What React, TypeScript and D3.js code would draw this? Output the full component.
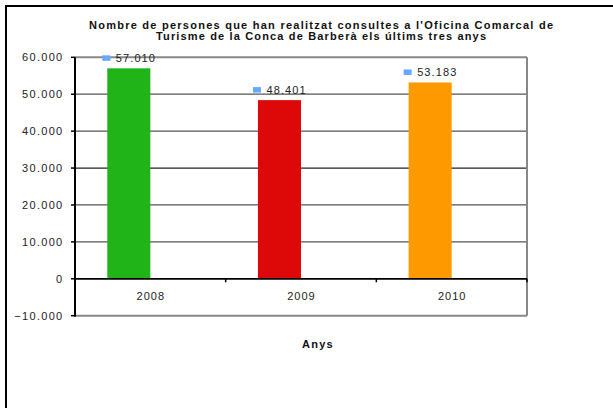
import React from "react";
import * as d3 from "d3";

const years = ["2008", "2009", "2010"];
const visits = [57010, 48401, 53183];
const barColors = ["#20b418", "#dd0808", "#ff9900"];
const yTicks = [-10000, 0, 10000, 20000, 30000, 40000, 50000, 60000];
const titleLines = [
  "Nombre de persones que han realitzat consultes a l'Oficina Comarcal de",
  "Turisme de la Conca de Barberà els últims tres anys",
];
const xTitle = "Anys";

const W = 613;
const H = 408;
const plot = { left: 75, right: 527, top: 57.3, bottom: 315.7 };
const font = "'Liberation Sans', Arial, sans-serif";

const locale = d3.formatLocale({ decimal: ",", thousands: ".", grouping: [3], currency: ["", "€"] });
const fmt = locale.format(",d");

export default function App() {
  const x = d3.scaleBand<string>().domain(years).range([plot.left, plot.right]).paddingInner(0).paddingOuter(0);
  const y = d3.scaleLinear().domain([-10000, 60000]).range([plot.bottom, plot.top]);
  const series = d3.scaleBand<string>().domain(["a", "b"]).range([0, x.bandwidth()]).paddingInner(0).paddingOuter(0.75 / 2 / (1 / 2) * 0.5 * 2 * 0.5);
  // Excel gap width ~150%: bar = band / 3.5
  const barW = x.bandwidth() / 3.5;
  const barOff = barW * 0.75;
  const y0 = y(0);

  return (
    <svg width={W} height={H} style={{ position: "absolute", left: 0, top: 0, background: "#fff" }} fontFamily={font}>
      <rect x={0} y={0} width={W} height={H} fill="#fff" />
      <rect x={6} y={6} width={640} height={430} fill="none" stroke="#000" strokeWidth={2} />
      {titleLines.map((t, i) => (
        <text
          key={i}
          x={321}
          y={28.5 + i * 11.8}
          textAnchor="middle"
          fontSize={11}
          fontWeight="bold"
          fill="#111"
          textLength={i === 0 ? 464 : 330}
          lengthAdjust="spacing"
        >
          {t}
        </text>
      ))}
      {/* gridlines */}
      {yTicks.map((t) => (
        <line
          key={t}
          x1={plot.left}
          x2={plot.right}
          y1={y(t)}
          y2={y(t)}
          stroke={t === 0 ? "#000" : t === 60000 || t === -10000 ? "#888" : t === 30000 ? "#222" : "#555"}
          strokeWidth={t === 60000 || t === -10000 ? 2 : t === 0 ? 1.5 : 1.2}
        />
      ))}
      <line x1={plot.right} x2={plot.right} y1={plot.top} y2={plot.bottom} stroke="#888" strokeWidth={2} />
      {/* bars */}
      {years.map((yr, i) => {
        const bx = (x(yr) as number) + barOff;
        return (
          <rect key={yr} x={bx} y={y(visits[i])} width={barW} height={y0 - y(visits[i])} fill={barColors[i]} />
        );
      })}
      {/* zero line over bars */}
      <line x1={plot.left} x2={plot.right} y1={y0} y2={y0} stroke="#000" strokeWidth={1.5} />
      {/* x ticks */}
      {years.map((yr) => {
        const tx = (x(yr) as number) + x.bandwidth();
        return <line key={yr} x1={tx} x2={tx} y1={y0} y2={y0 + 3.5} stroke="#000" strokeWidth={1.5} />;
      })}
      {/* y axis */}
      <line x1={plot.left} x2={plot.left} y1={plot.top} y2={plot.bottom + 1} stroke="#000" strokeWidth={2} />
      {yTicks.map((t) => (
        <g key={t}>
          <line x1={plot.left - 4} x2={plot.left} y1={y(t)} y2={y(t)} stroke="#000" strokeWidth={1.5} />
          <text x={63.5} y={y(t) + 4} textAnchor="end" fontSize={11} letterSpacing={1.3} fill="#222">
            {fmt(t)}
          </text>
        </g>
      ))}
      {/* value labels */}
      {years.map((yr, i) => {
        const cx = (x(yr) as number) + barOff + barW / 2;
        const top = y(visits[i]);
        return (
          <g key={yr}>
            <rect x={cx - 26.5} y={top - 13} width={8} height={5.5} fill="#66aaff" />
            <text x={cx - 13} y={top - 6} fontSize={11} letterSpacing={1.1} fill="#222">
              {fmt(visits[i])}
            </text>
          </g>
        );
      })}
      {/* category labels */}
      {years.map((yr) => (
        <text key={yr} x={(x(yr) as number) + x.bandwidth() / 2 + 0.5} y={300} textAnchor="middle" fontSize={11} letterSpacing={1} fill="#222">
          {yr}
        </text>
      ))}
      <text x={318} y={348} textAnchor="middle" fontSize={11} fontWeight="bold" letterSpacing={1.3} fill="#111">
        {xTitle}
      </text>
    </svg>
  );
}
